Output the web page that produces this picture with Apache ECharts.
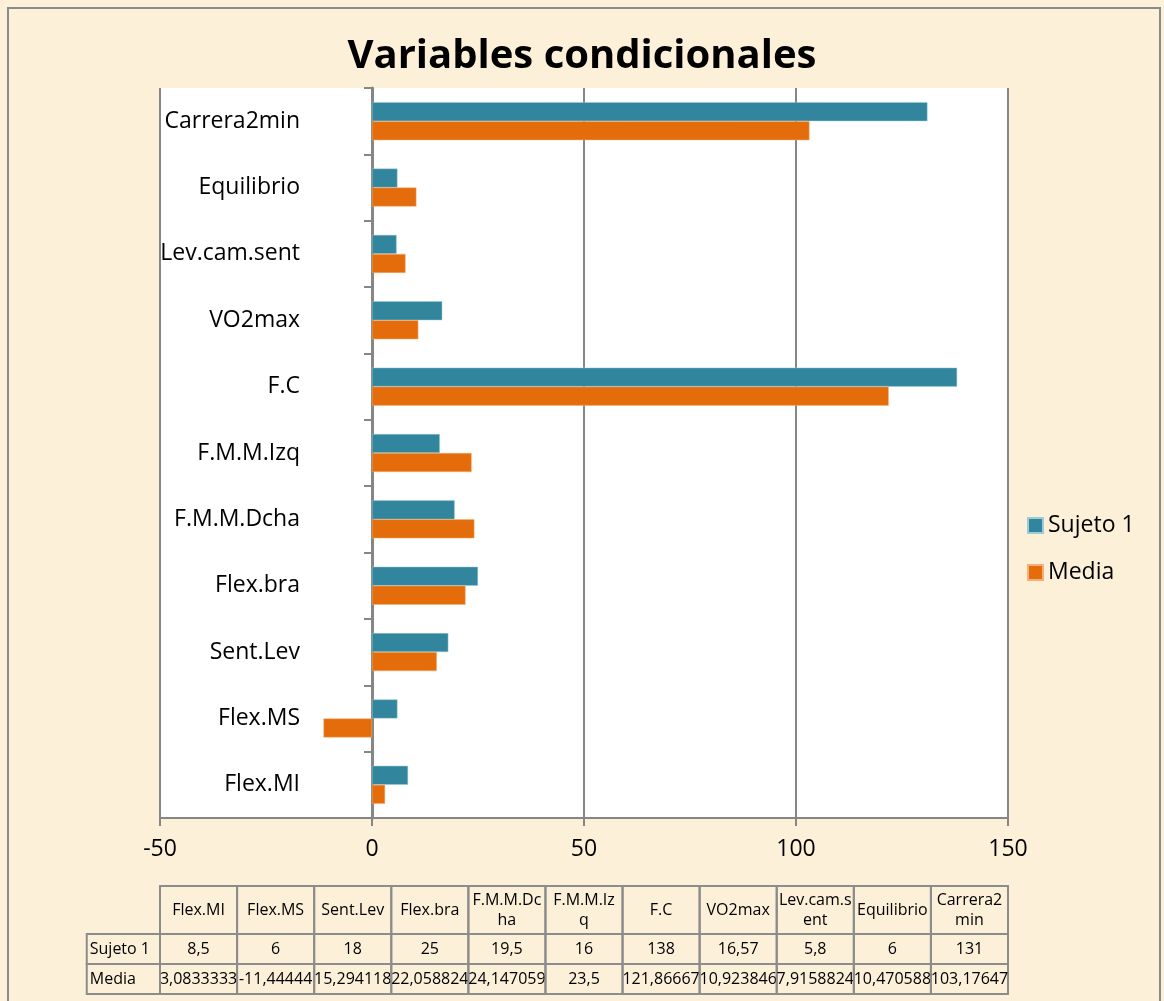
<!DOCTYPE html>
<html>
<head>
<meta charset="utf-8">
<script src="https://cdn.jsdelivr.net/npm/echarts@6/dist/echarts.min.js"></script>
<style>
  html, body { margin: 0; padding: 0; background: #fcf0d8; }
  #chart { width: 1164px; height: 1001px; }
</style>
</head>
<body>
<div id="chart"></div>
<script>
// categories listed bottom to top, as in the chart
const categories = ['Flex.MI', 'Flex.MS', 'Sent.Lev', 'Flex.bra', 'F.M.M.Dcha', 'F.M.M.Izq', 'F.C', 'VO2max', 'Lev.cam.sent', 'Equilibrio', 'Carrera2min']
const tableHeaders = ['Flex.MI', 'Flex.MS', 'Sent.Lev', 'Flex.bra', 'F.M.M.Dc\nha', 'F.M.M.Iz\nq', 'F.C', 'VO2max', 'Lev.cam.s\nent', 'Equilibrio', 'Carrera2\nmin']
const sujeto1 = [8.5, 6, 18, 25, 19.5, 16, 138, 16.57, 5.8, 6, 131]
const media = [3.0833333, -11.44444, 15.294118, 22.058824, 24.147059, 23.5, 121.86667, 10.923846, 7.9158824, 10.470588, 103.17647]
const seriesNames = ['Sujeto 1', 'Media']
const xTicks = { min: -50, max: 150, interval: 50 }

const teal = '#31859c'
const orange = '#e46c0a'
const gridLine = '#868686'
const font = '"Open Sans", Lato, sans-serif'

// table cells: [col, row, text]
const fmt = v => String(v).replace('.', ',')
const cells = []
tableHeaders.forEach((h, i) => cells.push([i, 0, h]))
sujeto1.forEach((v, i) => cells.push([i, 1, fmt(v)]))
media.forEach((v, i) => cells.push([i, 2, fmt(v)]))
cells.push([-1, 1, seriesNames[0]])
cells.push([-1, 2, seriesNames[1]])
const rowEdges = [0, 1.6, 2.6, 3.6]

const chartDom = document.getElementById('chart')
const chart = echarts.init(chartDom)

const option = {
    backgroundColor: '#fcf0d8',
    animation: false,
    textStyle: { fontFamily: font },
    title: {
        text: 'Variables condicionales',
        left: 'center',
        top: 32,
        textStyle: { fontSize: 40, fontWeight: 'bold', color: '#000', fontFamily: font }
    },
    legend: {
        orient: 'vertical',
        left: 1022,
        top: 509,
        icon: 'rect',
        itemWidth: 15,
        itemHeight: 15,
        itemGap: 24,
        data: seriesNames,
        textStyle: { fontSize: 23, color: '#000', fontFamily: font }
    },
    graphic: [{
        type: 'rect',
        shape: { x: 8, y: 8, width: 1152, height: 1010 },
        style: { fill: 'none', stroke: '#8a8a8a', lineWidth: 2 },
        silent: true
    }],
    grid: [{
        left: 160,
        right: 156,
        top: 88,
        bottom: 183,
        outerBoundsMode: 'none',
        containLabel: false,
        show: true,
        backgroundColor: '#ffffff',
        borderWidth: 0
    }, {
        left: 160,
        right: 156,
        top: 886,
        height: 108,
        outerBoundsMode: 'none'
    }],
    xAxis: [{
        type: 'value',
        gridIndex: 0,
        min: xTicks.min,
        max: xTicks.max,
        interval: xTicks.interval,
        axisLine: { show: true, lineStyle: { color: gridLine, width: 2 } },
        axisTick: { show: true, length: 8, lineStyle: { color: gridLine, width: 2 } },
        axisLabel: { fontSize: 23, color: '#000', margin: 20, fontFamily: font },
        splitLine: { show: true, lineStyle: { color: gridLine, width: 2 } }
    }, {
        type: 'value',
        gridIndex: 1,
        min: 0,
        max: categories.length,
        show: false
    }],
    yAxis: [{
        type: 'category',
        gridIndex: 0,
        data: categories,
        axisLine: { show: true, onZero: true, lineStyle: { color: gridLine, width: 3 } },
        axisTick: { show: true, length: 8, lineStyle: { color: gridLine, width: 2 } },
        axisLabel: { fontSize: 23, color: '#000', margin: -140, fontFamily: font },
        splitLine: { show: false }
    }, {
        type: 'value',
        gridIndex: 1,
        inverse: true,
        min: 0,
        max: rowEdges[rowEdges.length - 1],
        show: false
    }],
    series: [{
        name: seriesNames[0],
        type: 'bar',
        data: sujeto1,
        barWidth: 19,
        barGap: '0%',
        itemStyle: { color: teal, borderColor: '#9fcad6', borderWidth: 0.5 }
    }, {
        name: seriesNames[1],
        type: 'bar',
        data: media,
        barWidth: 19,
        barGap: '0%',
        itemStyle: { color: orange, borderColor: '#f5b07a', borderWidth: 0.5 }
    }, {
        type: 'custom',
        xAxisIndex: 1,
        yAxisIndex: 1,
        clip: false,
        silent: true,
        data: cells.map(c => [c[0], c[1]]),
        renderItem: function (params, api) {
            const cell = cells[params.dataIndex]
            const col = cell[0], row = cell[1]
            const isHead = col < 0
            const xa = api.coord([isHead ? -0.95 : col, 0])[0]
            const xb = api.coord([isHead ? 0 : col + 1, 0])[0]
            const ya = api.coord([0, rowEdges[row]])[1]
            const yb = api.coord([0, rowEdges[row + 1]])[1]
            return {
                type: 'group',
                children: [{
                    type: 'rect',
                    shape: { x: xa, y: ya, width: xb - xa, height: yb - ya },
                    style: { fill: 'none', stroke: '#8c8c8c', lineWidth: 2 }
                }, {
                    type: 'text',
                    x: isHead ? xa + 3 : (xa + xb) / 2,
                    y: (ya + yb) / 2,
                    style: {
                        text: cell[2],
                        fill: '#000',
                        font: '16px ' + font,
                        align: isHead ? 'left' : 'center',
                        verticalAlign: 'middle',
                        lineHeight: 20
                    }
                }]
            }
        }
    }]
}

option && chart.setOption(option)
</script>
</body>
</html>
